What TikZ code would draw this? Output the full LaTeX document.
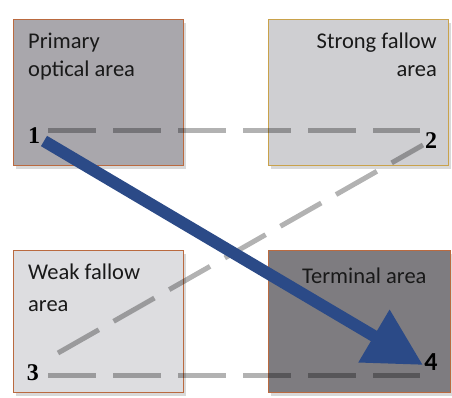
\documentclass[tikz,border=0pt]{standalone}
\usepackage{fontspec}
\setmainfont{Carlito}
\newfontfamily\numfont{Liberation Serif}
\usetikzlibrary{arrows.meta,shadows}
\definecolor{boxA}{HTML}{A9A7AC}
\definecolor{boxB}{HTML}{CFCFD2}
\definecolor{boxC}{HTML}{DDDDE0}
\definecolor{boxD}{HTML}{7E7C80}
\definecolor{edgeO}{HTML}{BA6A40}
\definecolor{edgeY}{HTML}{C9A24B}
\definecolor{arrowblue}{HTML}{2B4A87}
\begin{document}
\begin{tikzpicture}[x=1pt,y=-1pt,
  area/.style={draw, line width=1pt, inner sep=0pt, drop shadow={opacity=0.3, shadow xshift=3pt, shadow yshift=-4pt}},
  lbl/.style={inner sep=0pt, text=black!90, font=\fontsize{22.5}{28}\selectfont},
  num/.style={inner sep=0pt, anchor=base, font=\numfont\bfseries\fontsize{24}{26}\selectfont},
  dashline/.style={draw=black, draw opacity=0.3, line width=5pt, dash pattern=on 48pt off 17pt}
]
\useasboundingbox (0,0) rectangle (452,397);
\node[area, fill=boxA, draw=edgeO, minimum width=170pt, minimum height=146pt] (b1) at (98,92) {};
\node[area, fill=boxB, draw=edgeY, minimum width=180pt, minimum height=146pt] (b2) at (358,92) {};
\node[area, fill=boxC, draw=edgeO, minimum width=170pt, minimum height=142pt] (b3) at (98,321) {};
\node[area, fill=boxD, draw=edgeO, minimum width=182pt, minimum height=142pt] (b4) at (359,321) {};

\node[lbl, anchor=north west, align=left] (t1) at (28,33) {Primary\\optical area};
\node[lbl, anchor=north east, align=right] (t2) at (437,33) {Strong fallow\\area};
\node[lbl, anchor=north west, align=left, font=\fontsize{22.5}{32}\selectfont] (t3) at (28,264) {Weak fallow\\area};
\node[lbl, anchor=base west] (t4) at (302,283) {Terminal area};

\node[num] (n1) at (34,143) {1};
\node[num] (n2) at (431,148) {2};
\node[num] (n3) at (33,380) {3};
\node[num, font=\bfseries\fontsize{26}{28}\selectfont] (n4) at (431,370) {4};

\coordinate (d1) at (48,130);
\coordinate (d2) at (420,130);
\coordinate (d3) at (48,375);
\coordinate (d4) at (420,375);
\coordinate (e3) at (58,353);
\coordinate (e2) at (423,145);
\path[dashline] (d1) -- (d2);
\path[dashline] (d3) -- (d4);
\path[dashline, dash pattern=on 47pt off 17pt] (e3) -- (e2);

\coordinate (a1) at (44,141);
\coordinate (a4) at (423,365);
\draw[arrowblue, line width=12pt, -{Triangle[length=57pt,width=58pt]}] (a1) -- (a4);
\end{tikzpicture}
\end{document}
